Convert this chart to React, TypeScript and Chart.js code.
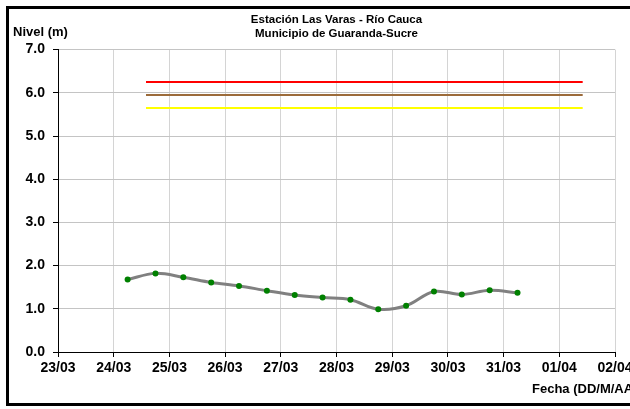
import React, { useEffect, useRef } from "react";
import { Chart, registerables } from "chart.js";

Chart.register(...registerables);

// X axis: days counted from 23/03 00:00
const dayLabels = ["23/03", "24/03", "25/03", "26/03", "27/03", "28/03", "29/03", "30/03", "31/03", "01/04", "02/04"];
// measurement times (days after 23/03 00:00)
const pointDays = [1.25, 1.75, 2.25, 2.75, 3.25, 3.75, 4.25, 4.75, 5.25, 5.75, 6.25, 6.75, 7.25, 7.75, 8.25];
// water level (m)
const levels = [1.68, 1.82, 1.73, 1.61, 1.53, 1.42, 1.32, 1.26, 1.21, 0.99, 1.07, 1.40, 1.33, 1.43, 1.37];
// alert thresholds (m)
const thresholdSpan = [1.58, 9.42];
const redLevel = 6.25;
const brownLevel = 5.95;
const yellowLevel = 5.65;

const titleLines = ["Estación Las Varas - Río Cauca", "Municipio de Guaranda-Sucre"];
const yAxisLabel = "Nivel (m)";
const xAxisLabel = "Fecha (DD/M/AA)";

const FONT = "'Liberation Sans', Arial, sans-serif";

export default function App() {
  const ref = useRef<HTMLCanvasElement | null>(null);

  useEffect(() => {
    document.body.style.margin = "0";
    const canvas = ref.current;
    if (!canvas) return;

    const framePlugin = {
      id: "frameAndLabels",
      afterDraw(chart: any) {
        const ctx = chart.ctx;
        ctx.save();
        ctx.strokeStyle = "#000";
        ctx.lineWidth = 3;
        ctx.strokeRect(7.5, 7.5, 660, 397);
        ctx.fillStyle = "#000";
        ctx.font = `bold 13px ${FONT}`;
        ctx.textBaseline = "middle";
        ctx.textAlign = "left";
        ctx.fillText(yAxisLabel, 13, 32);
        ctx.fillText(xAxisLabel, 532, 389);
        ctx.restore();
      },
    };

    const thr = (val: number, color: string) => ({
      data: thresholdSpan.map((d) => ({ x: d, y: val })),
      borderColor: color,
      borderWidth: 2,
      pointRadius: 0,
      fill: false,
      tension: 0,
    });

    const chart = new Chart(canvas, {
      type: "line",
      data: {
        datasets: [
          thr(redLevel, "#ff0000"),
          thr(brownLevel, "#9c6b3a"),
          thr(yellowLevel, "#ffff00"),
          {
            data: pointDays.map((d, i) => ({ x: d, y: levels[i] })),
            borderColor: "#808080",
            borderWidth: 3,
            pointRadius: 3,
            pointBackgroundColor: "#008000",
            pointBorderColor: "#008000",
            pointBorderWidth: 0,
            tension: 0.35,
            fill: false,
          },
        ],
      },
      options: {
        animation: false,
        responsive: false,
        devicePixelRatio: 1,
        layout: { padding: { left: 0, right: 15, top: 0, bottom: 0 } },
        plugins: {
          legend: { display: false },
          tooltip: { enabled: false },
          title: {
            display: true,
            text: titleLines,
            color: "#000",
            fullSize: false,
            font: { family: FONT, size: 11.5, weight: "bold", lineHeight: 1.2 },
            padding: { top: 13, bottom: 9 },
          },
        },
        scales: {
          x: {
            type: "linear",
            min: 0,
            max: 10,
            afterFit(scale: any) {
              scale.height = 57;
              scale.paddingLeft = 0;
              scale.paddingRight = 0;
            },
            ticks: {
              stepSize: 1,
              autoSkip: false,
              maxRotation: 0,
              color: "#000",
              padding: 3,
              font: { family: FONT, size: 14, weight: "bold" },
              callback: (v: any) => dayLabels[Math.round(Number(v))] ?? "",
            },
            grid: { color: "#d4d4d4", tickColor: "#000", tickLength: 5, lineWidth: 1 },
            border: { color: "#000", width: 1 },
          },
          y: {
            min: 0,
            max: 7,
            afterFit(scale: any) {
              scale.width = 58;
            },
            ticks: {
              stepSize: 1,
              color: "#000",
              padding: 8,
              font: { family: FONT, size: 14, weight: "bold" },
              callback: (v: any) => Number(v).toFixed(1),
            },
            grid: { color: "#c4c4c4", tickColor: "#000", tickLength: 5, lineWidth: 1 },
            border: { color: "#000", width: 1 },
          },
        },
      },
      plugins: [framePlugin],
    } as any);

    return () => chart.destroy();
  }, []);

  return (
    <div style={{ position: "absolute", left: 0, top: 0, width: 630, height: 409, background: "#fff" }}>
      <canvas ref={ref} width={630} height={409} style={{ display: "block" }} />
    </div>
  );
}
